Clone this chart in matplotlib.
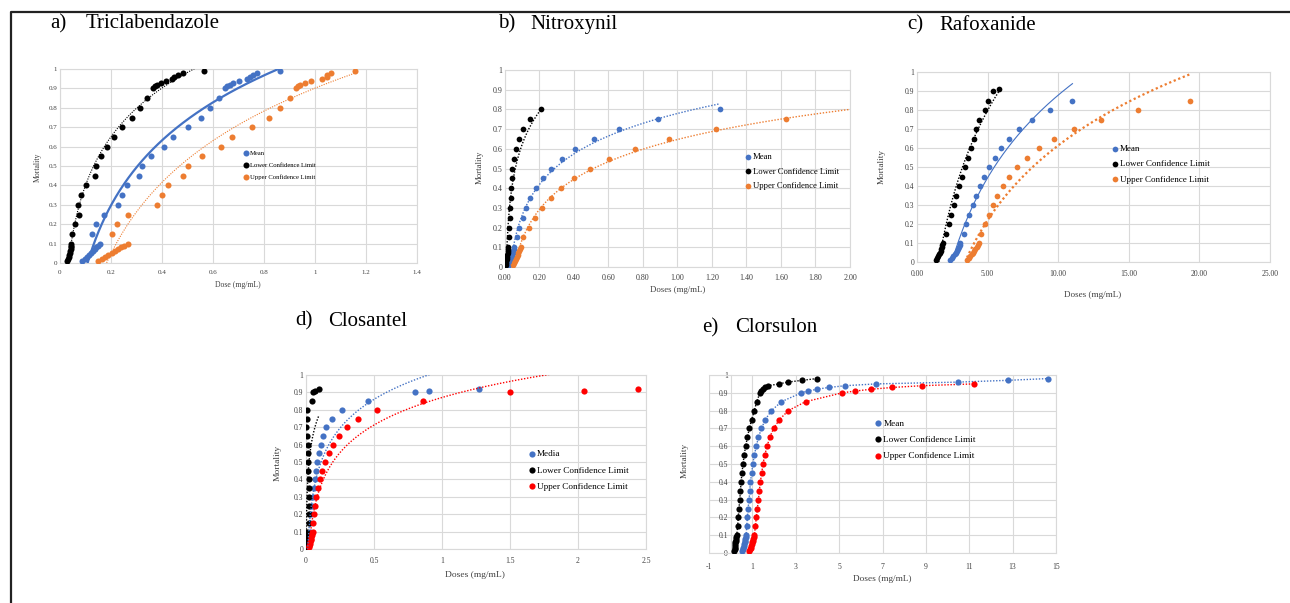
import numpy as np
import matplotlib
matplotlib.use("Agg")
import matplotlib.pyplot as plt
from matplotlib.lines import Line2D

plt.rcParams["font.family"] = ["Liberation Serif", "DejaVu Serif"]

W, H = 1290, 603
BLUE = "#4472C4"
ORANGE = "#ED7D31"
BLACK = "#000000"
RED = "#FF0000"
GRID = "#d9d9d9"

# mortality levels (probit table)
LOW = [0.01, 0.02, 0.03, 0.04, 0.05, 0.06, 0.07, 0.08, 0.09, 0.10]
MID = [0.15, 0.20, 0.25, 0.30, 0.35, 0.40, 0.45, 0.50, 0.55, 0.60,
       0.65, 0.70, 0.75, 0.80, 0.85, 0.90]
HIGH = [0.91, 0.92, 0.93, 0.94, 0.95, 0.96, 0.97, 0.98, 0.99]

# a) Triclabendazole
a_mort = LOW + MID + HIGH
a_mean = [0.088, 0.098, 0.107, 0.115, 0.122, 0.129, 0.136, 0.143, 0.150, 0.157,
          0.124, 0.143, 0.174, 0.228, 0.242, 0.264, 0.310, 0.321, 0.357, 0.408,
          0.444, 0.500, 0.551, 0.589, 0.623, 0.646,
          0.654, 0.665, 0.680, 0.701, 0.734, 0.746, 0.755, 0.773, 0.862]
a_lower = [0.027, 0.031, 0.034, 0.037, 0.039, 0.041, 0.042, 0.043, 0.044, 0.045,
           0.048, 0.060, 0.075, 0.072, 0.084, 0.103, 0.138, 0.140, 0.162, 0.183,
           0.212, 0.245, 0.281, 0.314, 0.343, 0.365,
           0.373, 0.382, 0.398, 0.416, 0.438, 0.447, 0.461, 0.483, 0.564]
a_upper = [0.150, 0.165, 0.178, 0.190, 0.202, 0.214, 0.226, 0.238, 0.252, 0.268,
           0.204, 0.225, 0.268, 0.382, 0.400, 0.425, 0.481, 0.502, 0.555, 0.631,
           0.675, 0.754, 0.819, 0.862, 0.901, 0.926,
           0.933, 0.942, 0.959, 0.985, 1.028, 1.047, 1.049, 1.062, 1.158]

# b) Nitroxynil
b_mort = LOW + MID[:14]
b_mean = [0.025, 0.029, 0.033, 0.036, 0.039, 0.042, 0.045, 0.048, 0.051, 0.054,
          0.068, 0.083, 0.103, 0.122, 0.147, 0.180, 0.219, 0.268, 0.330, 0.407,
          0.514, 0.663, 0.888, 1.247]
b_lower = [0.003, 0.005, 0.007, 0.009, 0.011, 0.013, 0.015, 0.016, 0.018, 0.020,
           0.021, 0.025, 0.029, 0.031, 0.033, 0.035, 0.039, 0.041, 0.050, 0.064,
           0.080, 0.105, 0.145, 0.210]
b_upper = [0.045, 0.051, 0.057, 0.063, 0.068, 0.073, 0.078, 0.083, 0.088, 0.093,
           0.107, 0.138, 0.173, 0.213, 0.266, 0.324, 0.398, 0.491, 0.603, 0.753,
           0.949, 1.224, 1.631, 2.150]

# c) Rafoxanide
c_mort_lower = LOW + MID + HIGH[:1]
c_mort = LOW + MID[:15]
c_mean = [2.36, 2.47, 2.58, 2.66, 2.74, 2.82, 2.88, 2.94, 3.01, 3.07,
          3.30, 3.49, 3.70, 3.94, 4.20, 4.43, 4.72, 5.07, 5.50, 5.97,
          6.51, 7.24, 8.14, 9.43, 11.01]
c_lower = [1.37, 1.45, 1.52, 1.57, 1.62, 1.67, 1.71, 1.75, 1.80, 1.84,
           2.08, 2.24, 2.41, 2.59, 2.78, 2.97, 3.18, 3.37, 3.58, 3.80,
           4.01, 4.20, 4.41, 4.79, 5.00, 5.35, 5.78]
c_upper = [3.54, 3.66, 3.78, 3.88, 3.97, 4.06, 4.14, 4.22, 4.29, 4.36,
           4.53, 4.81, 5.07, 5.35, 5.68, 6.06, 6.53, 7.10, 7.78, 8.63,
           9.72, 11.11, 13.02, 15.68, 19.34]

# d) Closantel
d_mort = LOW + MID + HIGH[:2]
d_mean = [0.010, 0.013, 0.016, 0.018, 0.021, 0.023, 0.025, 0.027, 0.029, 0.031,
          0.032, 0.037, 0.044, 0.049, 0.056, 0.064, 0.071, 0.081, 0.093, 0.108,
          0.125, 0.150, 0.191, 0.267, 0.453, 0.801, 0.902, 1.270]
d_lower = [0.002, 0.003, 0.004, 0.005, 0.006, 0.007, 0.008, 0.009, 0.010, 0.011,
           0.025, 0.020, 0.020, 0.020, 0.020, 0.020, 0.015, 0.012, 0.012, 0.012,
           0.007, 0.002, 0.007, 0.010, 0.044, 0.051, 0.064, 0.096]
d_upper = [0.020, 0.024, 0.028, 0.031, 0.034, 0.037, 0.040, 0.043, 0.046, 0.049,
           0.049, 0.056, 0.064, 0.076, 0.088, 0.105, 0.120, 0.142, 0.169, 0.199,
           0.240, 0.301, 0.382, 0.522, 0.858, 1.502, 2.047, 2.441]

# e) Clorsulon
e_mort = LOW + MID + HIGH[:8]
e_mort_upper = LOW + MID + HIGH[:5]
e_mean = [0.54, 0.56, 0.58, 0.60, 0.62, 0.64, 0.66, 0.68, 0.69, 0.71,
          0.74, 0.77, 0.80, 0.85, 0.88, 0.91, 0.97, 1.02, 1.09, 1.18,
          1.28, 1.42, 1.60, 1.88, 2.34, 3.26,
          3.57, 3.98, 4.52, 5.29, 6.71, 10.46, 12.77, 14.63]
e_lower = [0.17, 0.18, 0.19, 0.20, 0.21, 0.22, 0.24, 0.25, 0.26, 0.28,
           0.32, 0.35, 0.38, 0.42, 0.45, 0.48, 0.52, 0.57, 0.62, 0.69,
           0.77, 0.86, 0.97, 1.09, 1.20, 1.35,
           1.40, 1.51, 1.58, 1.74, 2.23, 2.62, 3.29, 3.97]
e_upper = [0.86, 0.89, 0.92, 0.95, 0.98, 1.00, 1.03, 1.05, 1.07, 1.09,
           1.14, 1.18, 1.23, 1.28, 1.32, 1.37, 1.43, 1.49, 1.57, 1.68,
           1.80, 1.98, 2.25, 2.66, 3.45, 5.15,
           5.75, 6.48, 7.45, 8.83, 11.22]

y_ticks = [0, 0.1, 0.2, 0.3, 0.4, 0.5, 0.6, 0.7, 0.8, 0.9, 1]
a_xticks = [0, 0.2, 0.4, 0.6, 0.8, 1.0, 1.2, 1.4]
b_xticks = [0, 0.2, 0.4, 0.6, 0.8, 1.0, 1.2, 1.4, 1.6, 1.8, 2.0]
c_xticks = [0, 5, 10, 15, 20, 25]
d_xticks = [0, 0.5, 1, 1.5, 2, 2.5]
e_xticks = [-1, 1, 3, 5, 7, 9, 11, 13, 15]

DOT = (0, (1, 1.2))

fig = plt.figure(figsize=(W / 100, H / 100), dpi=100)
fig.patch.set_facecolor("white")


def fx(x):
    return x / W


def fy(y):
    return 1 - y / H


def px_axes(l, t, r, b):
    return fig.add_axes([l / W, 1 - b / H, (r - l) / W, (b - t) / H])


def log_trend(x, y):
    x = np.asarray(x, float)
    y = np.asarray(y, float)
    k, c = np.polyfit(np.log(x), y, 1)
    xs = np.linspace(x.min(), x.max(), 400)
    return xs, k * np.log(xs) + c


def panel(rect, xlim, xticks, xfmt, series, tick_fs, ms, leg, xlabel, ylab_pos, xlab_pos,
          lab_fs, ypad=2, xpad=4, yaxis_at_zero=False):
    ax = px_axes(*rect)
    ax.set_xlim(*xlim)
    ax.set_ylim(0, 1)
    ax.set_xticks(xticks)
    ax.set_xticklabels([xfmt(v) for v in xticks])
    ax.set_yticks(y_ticks)
    ax.set_yticklabels([f"{v:g}" for v in y_ticks])
    ax.grid(True, color=GRID, lw=0.8)
    ax.set_axisbelow(True)
    ax.tick_params(length=0, labelsize=tick_fs, colors="#404040")
    ax.tick_params(axis="y", pad=ypad)
    ax.tick_params(axis="x", pad=xpad)
    for s in ax.spines.values():
        s.set_color(GRID)
        s.set_linewidth(0.8)
    if yaxis_at_zero:
        ax.spines["left"].set_position(("data", 0))
        ax.axvline(xlim[0], color=GRID, lw=0.8, zorder=0)

    handles = []
    for xs, ys, color, label, kind, lw, ls in series:
        h = ax.scatter(xs, ys, s=ms, color=color, zorder=3, linewidths=0, label=label)
        handles.append(h)
        if kind == "log":
            tx, ty = log_trend(xs, ys)
            ax.plot(tx, ty, color=color, lw=lw, ls=ls, zorder=4)
        elif kind == "connect":
            ax.plot(xs, ys, color=color, lw=lw, ls=ls, zorder=2)

    lx, ly, lfs, lsp = leg
    ax.legend(handles=handles, loc="upper left", bbox_to_anchor=(fx(lx), fy(ly)),
              bbox_transform=fig.transFigure, frameon=False, fontsize=lfs,
              handletextpad=0.1, labelspacing=lsp, borderpad=0, borderaxespad=0,
              handlelength=0.9, markerscale=1.0)

    fig.text(fx(ylab_pos[0]), fy(ylab_pos[1]), "Mortality", rotation=90,
             ha="center", va="center", fontsize=lab_fs, color="#404040")
    fig.text(fx(xlab_pos[0]), fy(xlab_pos[1]), xlabel,
             ha="center", va="center", fontsize=lab_fs, color="#404040")
    return ax


fmt_g = lambda v: f"{v:g}"
fmt_2 = lambda v: f"{v:.2f}"

# a) Triclabendazole
panel((60, 69, 417, 263), (0, 1.4), a_xticks, fmt_g,
      [(a_mean, a_mort, BLUE, "Mean", "log", 1.6, "-"),
       (a_lower, a_mort, BLACK, "Lower Confidence Limit", "log", 0.8, DOT),
       (a_upper, a_mort, ORANGE, "Upper Confidence Limit", "log", 0.8, DOT)],
      5, 19, (243, 150, 4.8, 0.95), "Dose (mg/mL)", (38, 167), (238, 285), 5.6,
      xpad=5)

# b) Nitroxynil
panel((505, 70, 850, 267), (0, 2.0), b_xticks, fmt_2,
      [(b_mean, b_mort, BLUE, "Mean", "log", 1.0, DOT),
       (b_lower, b_mort, BLACK, "Lower Confidence Limit", "log", 1.0, DOT),
       (b_upper, b_mort, ORANGE, "Upper Confidence Limit", "log", 1.0, DOT)],
      5.8, 17, (744, 153, 6.2, 0.75), "Doses (mg/mL)", (480, 167), (678, 290), 6.3,
      xpad=5)

# c) Rafoxanide
panel((917, 72, 1270, 262), (0, 25), c_xticks, fmt_2,
      [(c_mean, c_mort, BLUE, "Mean", "log", 0.8, "-"),
       (c_lower, c_mort_lower, BLACK, "Lower Confidence Limit", "log", 1.0, DOT),
       (c_upper, c_mort, ORANGE, "Upper Confidence Limit", "log", 1.6, DOT)],
      5.5, 17, (1111, 145, 6.5, 0.75), "Doses (mg/mL)", (882, 167), (1093, 295), 6.6,
      xpad=6)

# d) Closantel
panel((306, 375, 646, 549), (0, 2.5), d_xticks, fmt_g,
      [(d_mean, d_mort, BLUE, "Media", "log", 1.0, DOT),
       (d_lower, d_mort, BLACK, "Lower Confidence Limit", "log", 1.0, DOT),
       (d_upper, d_mort, RED, "Upper Confidence Limit", "log", 1.0, DOT)],
      5.5, 20, (528, 450, 6.6, 0.85), "Doses (mg/mL)", (278, 463), (475, 575), 6.8,
      xpad=6)

# e) Clorsulon
panel((709, 375, 1056, 553), (-1, 15), e_xticks, fmt_g,
      [(e_mean, e_mort, BLUE, "Mean", "connect", 1.0, DOT),
       (e_lower, e_mort, BLACK, "Lower Confidence Limit", "connect", 1.0, DOT),
       (e_upper, e_mort_upper, RED, "Upper Confidence Limit", "connect", 1.0, DOT)],
      5.5, 20, (874, 419, 6.7, 0.85), "Doses (mg/mL)", (685, 460), (882, 579), 6.7,
      xpad=7, yaxis_at_zero=True)

# panel titles
titles = [("a)", "Triclabendazole", 50, 86, 24),
          ("b)", "Nitroxynil", 498, 530, 24),
          ("c)", "Rafoxanide", 907, 939, 25),
          ("d)", "Closantel", 295, 328, 321),
          ("e)", "Clorsulon", 702, 735, 328)]
for tag, name, x_tag, x_name, y in titles:
    fig.text(fx(x_tag), fy(y), tag, ha="left", va="center", fontsize=15)
    fig.text(fx(x_name), fy(y), name, ha="left", va="center", fontsize=15)

# outer frame (left and top edges)
fig.add_artist(Line2D([fx(11), fx(11), 1.0], [0.0, fy(12), fy(12)],
                      transform=fig.transFigure, color="#222222", lw=1.6))

fig.savefig("out.png", dpi=100, facecolor="white")
